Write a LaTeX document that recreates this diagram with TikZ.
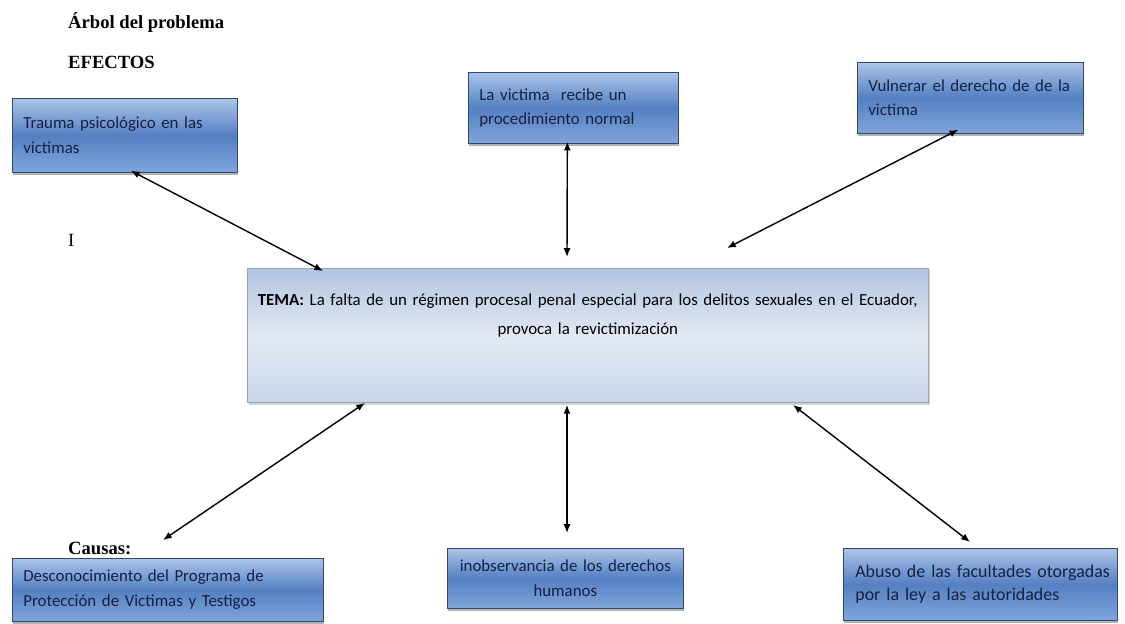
\documentclass[tikz,border=0pt]{standalone}
\usepackage{fontspec}
\setmainfont{Liberation Serif}
\newfontfamily\boxfont[WordSpace=0.85]{Carlito}
\usetikzlibrary{arrows.meta,shadows,calc}

\definecolor{boxtop}{RGB}{172,196,232}
\definecolor{boxmid}{RGB}{84,128,194}
\definecolor{boxbot}{RGB}{128,165,218}
\definecolor{boxline}{RGB}{50,72,115}
\definecolor{boxtext}{RGB}{22,32,66}
\definecolor{temtop}{RGB}{176,197,224}
\definecolor{temmid}{RGB}{226,233,243}
\definecolor{tembot}{RGB}{200,214,234}
\definecolor{temline}{RGB}{150,165,185}

\begin{document}
\begin{tikzpicture}[x=0.02cm,y=-0.02cm,
  effect/.style={rectangle,draw=boxline,line width=0.4pt,
    top color=boxtop,bottom color=boxbot,middle color=boxmid,
    drop shadow={shadow xshift=0.6pt,shadow yshift=-1.4pt,opacity=0.6},
    anchor=north west,inner xsep=0.22cm,inner ysep=0.1cm,align=left,
    text width=#1,text=boxtext,font=\boxfont\fontsize{9.6}{14}\selectfont},
  theme/.style={rectangle,draw=temline,line width=0.4pt,
    top color=temtop,bottom color=tembot,middle color=temmid,
    drop shadow={shadow xshift=0.8pt,shadow yshift=-1.2pt,opacity=0.35},
    anchor=north west,inner xsep=0.15cm,inner ysep=0.5cm,align=center,
    font=\boxfont\fontsize{9.6}{17}\selectfont},
  link/.style={{Latex[length=5pt,width=4pt]}-{Latex[length=5pt,width=4pt]},line width=0.8pt},
  heading/.style={anchor=west,font=\bfseries\fontsize{10.6}{12}\selectfont}]

\useasboundingbox (0,0) rectangle (1125,623);

% titulos
\node[heading] (titulo) at (62,22) {Árbol del problema};
\node[heading] (efectos) at (62,62) {EFECTOS};
\node[anchor=west,font=\fontsize{10.6}{12}\selectfont] (marca) at (62,240) {I};
\node[heading] (causas) at (62,548) {Causas:};

% tema central
\node[theme,text width=13.32cm,minimum height=2.68cm,text depth=1.45cm] (tema) at (247,268)
  {\textbf{TEMA:} La falta de un régimen procesal penal especial para los delitos sexuales en el Ecuador,\\
   provoca la revictimización};

% efectos
\node[effect=4.06cm,minimum height=1.48cm] (trauma) at (12,98)
  {Trauma psicológico en las\\ victimas};
\node[effect=3.76cm,minimum height=1.42cm] (recibe) at (468,72)
  {La victima~ recibe un\\ procedimiento normal};
\node[effect=4.08cm,minimum height=1.42cm] (vulnerar) at (857,62)
  {Vulnerar el derecho de de la\\ victima};

% causas
\node[effect=5.78cm,minimum height=1.26cm] (programa) at (12,558)
  {Desconocimiento del Programa de\\ Protección de Victimas y Testigos};
\node[effect=4.28cm,minimum height=1.2cm,align=center] (derechos) at (447,548)
  {inobservancia de los derechos\\ humanos};
\node[effect=5.0cm,inner xsep=0.24cm,minimum height=1.44cm,font=\boxfont\fontsize{10.2}{13}\selectfont] (abuso) at (843,548)
  {\mbox{Abuso de las facultades otorgadas}\\ por la ley a las autoridades};

% flechas
\coordinate (p1) at (567,257);
\coordinate (p2) at (727,248);
\coordinate (p3) at (163,540);
\coordinate (p4) at (567,533);
\coordinate (p5) at (970,542);

\draw[link] ($(trauma.south)+(6,-2)$) -- ($(tema.north west)+(76,3)$);
\draw[link] ($(recibe.south)+(-6,-2)$) -- (p1);
\draw[link] ($(vulnerar.south)+(-12,-4)$) -- (p2);
\draw[link] ($(tema.south west)+(118,0)$) -- (p3);
\draw[link] ($(tema.south west)+(320,2)$) -- (p4);
\draw[link] ($(tema.south west)+(546,2)$) -- (p5);
\end{tikzpicture}
\end{document}
